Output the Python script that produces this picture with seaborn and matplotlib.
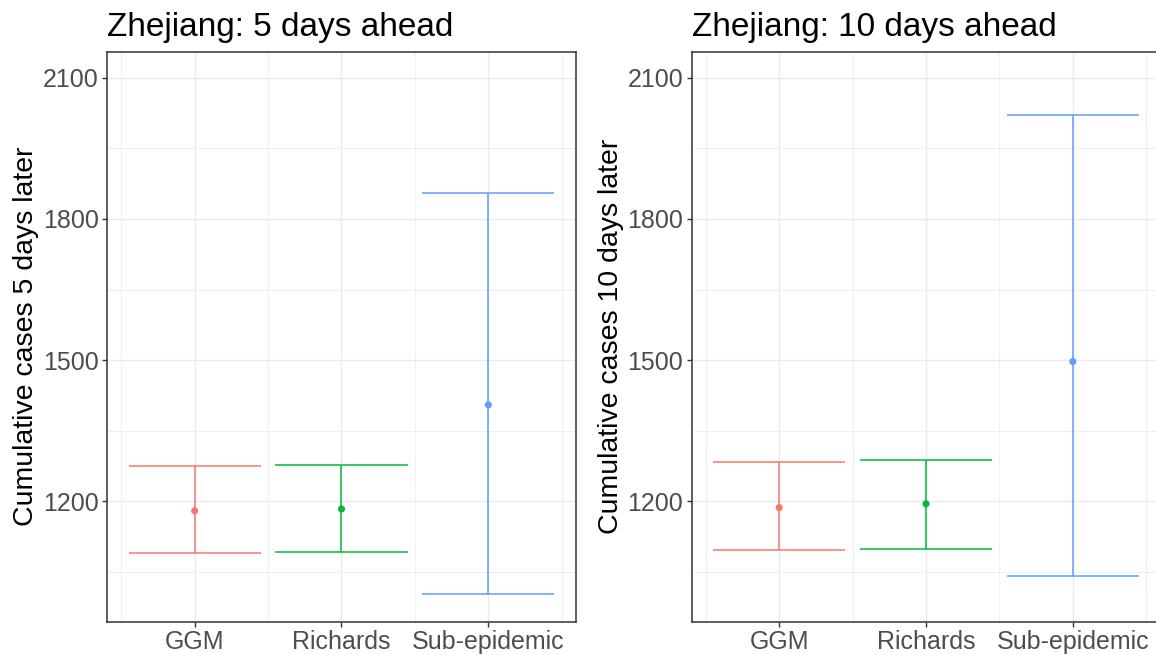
import matplotlib
matplotlib.use("Agg")
import matplotlib.pyplot as plt
import seaborn as sns
import pandas as pd
import numpy as np

models = ["GGM", "Richards", "Sub-epidemic"]
colors = ["#F8766D", "#00BA38", "#619CFF"]

mean_5 = [1180, 1184, 1405]
lower_5 = [1090, 1093, 1003]
upper_5 = [1275, 1277, 1854]

mean_10 = [1187, 1195, 1497]
lower_10 = [1097, 1100, 1041]
upper_10 = [1284, 1287, 2021]

titles = ["Zhejiang: 5 days ahead", "Zhejiang: 10 days ahead"]
ylabels = ["Cumulative cases 5 days later", "Cumulative cases 10 days later"]
yticks = [1200, 1500, 1800, 2100]
yminor = [1050, 1350, 1650, 1950]

sns.set_theme(style="white")
plt.rcParams["font.family"] = ["Liberation Sans", "DejaVu Sans"]

W, H = 1156, 655
fig = plt.figure(figsize=(W / 100, H / 100), dpi=100)
fig.patch.set_facecolor("white")

panels = [
    (107.3, mean_5, lower_5, upper_5, titles[0], ylabels[0]),
    (691.8, mean_10, lower_10, upper_10, titles[1], ylabels[1]),
]
ax_w = 468.4
ax_top, ax_bot = 51.7, 621.5

for x0, mean, lo, hi, title, ylab in panels:
    ax = fig.add_axes([x0 / W, (H - ax_bot) / H, ax_w / W, (ax_bot - ax_top) / H])
    df = pd.DataFrame({"model": models, "x": np.arange(1, len(models) + 1),
                       "mean": mean, "lower": lo, "upper": hi})
    # grid
    for v in yticks:
        ax.axhline(v, color="#EBEBEB", lw=1.07, zorder=0)
    for v in yminor:
        ax.axhline(v, color="#EBEBEB", lw=0.55, zorder=0)
    for v in df["x"]:
        ax.axvline(v, color="#EBEBEB", lw=1.07, zorder=0)
    for v in np.arange(0.5, len(models) + 1, 1.0):
        ax.axvline(v, color="#EBEBEB", lw=0.55, zorder=0)
    # error bars
    for i, row in df.iterrows():
        c = colors[i]
        ax.vlines(row["x"], row["lower"], row["upper"], color=c, lw=1.1, zorder=2)
        ax.hlines([row["lower"], row["upper"]], row["x"] - 0.45, row["x"] + 0.45,
                  color=c, lw=1.1, zorder=2)
    sns.scatterplot(data=df, x="x", y="mean", hue="model", palette=colors,
                    s=26, edgecolor="none", legend=False, ax=ax, zorder=3)
    ax.set_xlim(0.405, 3.595)
    ax.set_ylim(945, 2155)
    ax.set_xticks(df["x"])
    ax.set_xticklabels(models)
    ax.set_yticks(yticks)
    ax.set_yticklabels([str(v) for v in yticks])
    ax.tick_params(axis="both", labelsize=18, colors="#333333", labelcolor="#4D4D4D",
                   length=3.6, width=1.0, pad=2.5, direction="out",
                   left=True, bottom=True)
    for sp in ax.spines.values():
        sp.set_color("#333333")
        sp.set_linewidth(1.1)
        sp.set_visible(True)
    ax.set_xlabel("")
    ax.set_ylabel(ylab, fontsize=20.5, color="black", labelpad=2.5)
    ax.set_title(title, loc="left", fontsize=24, color="black", pad=11.5)
    ax.set_facecolor("white")

fig.savefig("out.png", dpi=100, facecolor="white")
